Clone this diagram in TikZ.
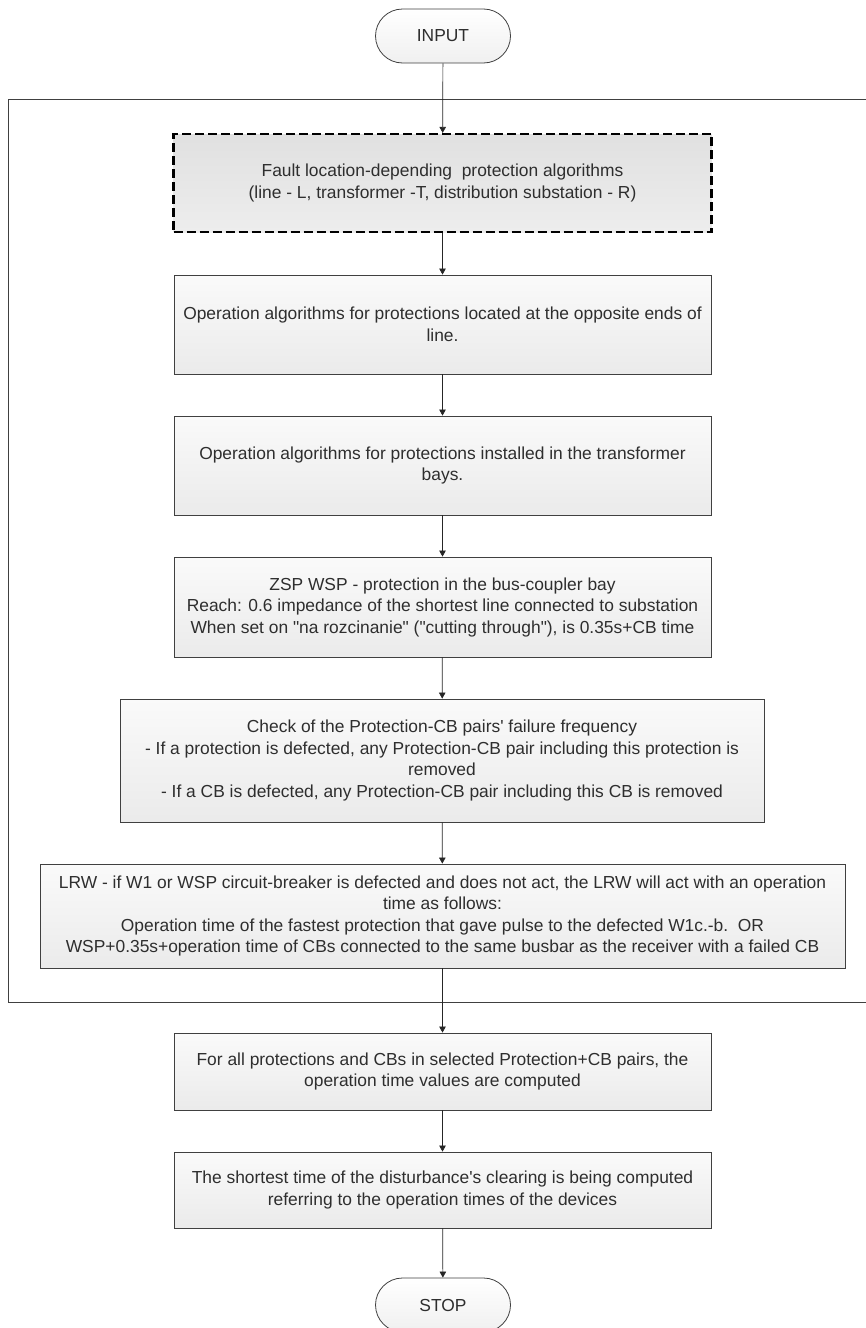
\documentclass[tikz,border=0pt]{standalone}
\usepackage{fontspec}
\setmainfont{Liberation Sans}
\usetikzlibrary{arrows.meta}
\begin{document}
\begin{tikzpicture}[x=1pt,y=-1pt,
  every node/.style={font=\fontsize{17.4}{21.5}\selectfont, text=black!82, align=center, inner sep=0pt},
  box/.style={draw=black!75, line width=0.8pt, top color=gray!4, bottom color=gray!16, anchor=center},
  dbox/.style={draw=black, line width=2.2pt, dash pattern=on 9pt off 4pt, top color=gray!24, bottom color=gray!14, anchor=center},
  term/.style={draw=black!75, line width=0.8pt, rounded corners=27pt, top color=white, bottom color=gray!12, minimum width=135pt, minimum height=54pt},
  arr/.style={draw=black!85, line width=0.7pt, -{Triangle[length=6pt,width=6.5pt]}},
  frame/.style={draw=black!75, line width=0.8pt}]
\useasboundingbox (0,0) rectangle (865,1328);
\draw[frame] (870,99) -- (8.5,99) -- (8.5,1002) -- (870,1002);
\node[term] (in) at (443,36) {INPUT};
\node[dbox, minimum width=538pt, minimum height=98pt] (b1) at (442.5,183) {Fault location-depending\ \ protection algorithms\\(line - L, transformer -T, distribution substation - R)};
\node[box, minimum width=537pt, minimum height=99pt] (b2) at (442.5,324.5) {Operation algorithms for protections located at the opposite ends of\\line.};
\node[box, minimum width=537pt, minimum height=99pt] (b3) at (442.5,465.5) {Operation algorithms for protections installed in the transformer\\bays.};
\node[box, minimum width=537pt, minimum height=100pt] (b4) at (442.5,607) {ZSP WSP - protection in the bus-coupler bay\\Reach: 0.6 impedance of the shortest line connected to substation\\When set on \textquotedbl na rozcinanie\textquotedbl{} (\textquotedbl cutting through\textquotedbl), is 0.35s+CB time};
\node[box, minimum width=644pt, minimum height=123pt] (b5) at (442,760.5) {Check of the Protection-CB pairs\textquotesingle{} failure frequency\\- If a protection is defected, any Protection-CB pair including this protection is\\removed\\- If a CB is defected, any Protection-CB pair including this CB is removed};
\node[box, minimum width=805pt, minimum height=104pt] (b6) at (442.5,916) {LRW - if W1 or WSP circuit-breaker is defected and does not act, the LRW will act with an operation\\time as follows:\\Operation time of the fastest protection that gave pulse to the defected W1c.-b.\ \ OR\\WSP+0.35s+operation time of CBs connected to the same busbar as the receiver with a failed CB};
\node[box, minimum width=537pt, minimum height=77pt] (b7) at (442.5,1071.5) {For all protections and CBs in selected Protection+CB pairs, the\\operation time values are computed};
\node[box, minimum width=537pt, minimum height=76pt] (b8) at (442.5,1190) {The shortest time of the disturbance\textquotesingle{}s clearing is being computed\\referring to the operation times of the devices};
\node[term] (stop) at (443,1305) {STOP};
\draw[arr] (in) -- (b1);
\draw[arr] (b1) -- (b2);
\draw[arr] (b2) -- (b3);
\draw[arr] (b3) -- (b4);
\draw[arr] (b4) -- (b5);
\draw[arr] (b5) -- (b6);
\draw[arr] (b6) -- (b7);
\draw[arr] (b7) -- (b8);
\draw[arr] (b8) -- (stop);
\end{tikzpicture}
\end{document}
